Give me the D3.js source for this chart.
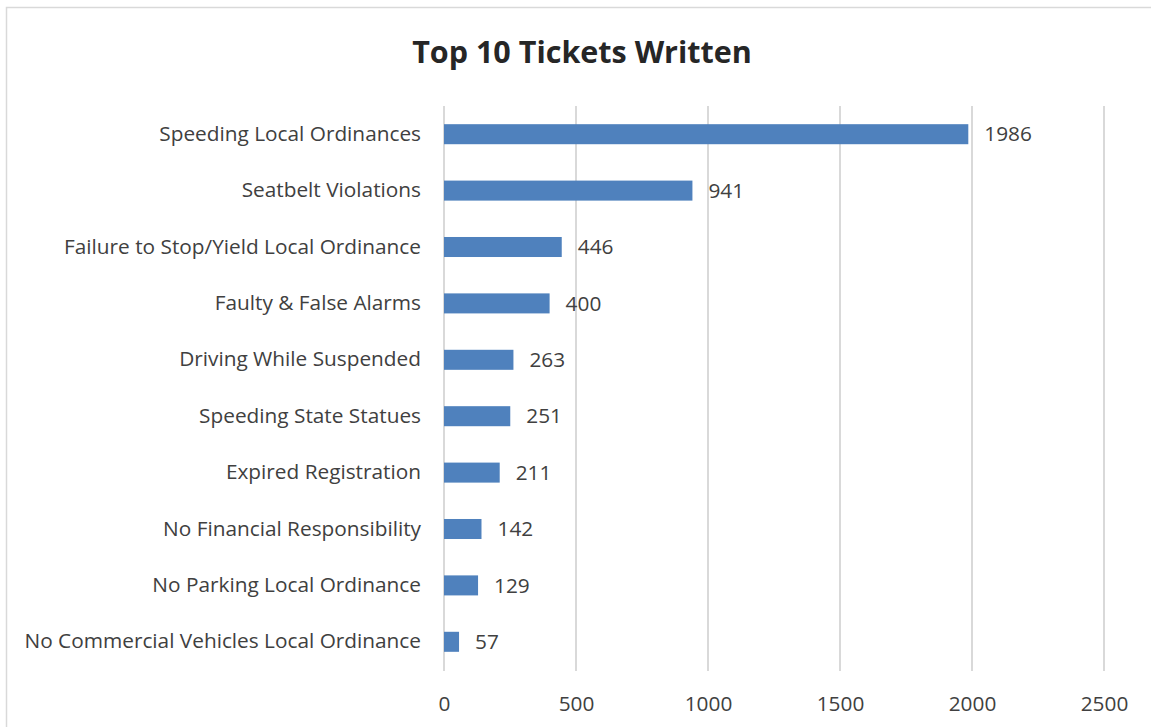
<!DOCTYPE html>
<html><head><meta charset="utf-8">
<script src="https://cdn.jsdelivr.net/npm/d3@7"></script>
<style>html,body{margin:0;padding:0;background:#fff;}svg{display:block;}</style>
</head><body>
<svg id="chart" width="1151" height="727"></svg>
<script>
const categories = ["Speeding Local Ordinances","Seatbelt Violations","Failure to Stop/Yield Local Ordinance","Faulty & False Alarms","Driving While Suspended","Speeding State Statues","Expired Registration","No Financial Responsibility","No Parking Local Ordinance","No Commercial Vehicles Local Ordinance"];
const values = [1986, 941, 446, 400, 263, 251, 211, 142, 129, 57];
const xTicks = [0, 500, 1000, 1500, 2000, 2500];
const title = "Top 10 Tickets Written";

const svg = d3.select("#chart");
const font = "'Open Sans', sans-serif";
svg.append("rect").attr("x",6.5).attr("y",7.5).attr("width",1200).attr("height",800)
  .attr("fill","#fff").attr("stroke","#d9d9d9").attr("stroke-width",1.5);

const x = d3.scaleLinear().domain([0,2500]).range([444,1104]);
const y = d3.scaleBand().domain(categories).range([106,670]).paddingInner(0.645).paddingOuter(0.3225);

svg.append("text").attr("x",582).attr("y",63).attr("text-anchor","middle")
  .attr("font-family",font).attr("font-weight","bold").attr("font-size",30.5).attr("fill","#262626").text(title);

svg.append("g").selectAll("line").data(xTicks).join("line")
  .attr("x1",d=>x(d)).attr("x2",d=>x(d)).attr("y1",106).attr("y2",671)
  .attr("stroke","#d9d9d9").attr("stroke-width",2);

const xAxis = svg.append("g").attr("transform","translate(0,671)")
  .call(d3.axisBottom(x).tickValues(xTicks).tickSize(0).tickPadding(25).tickFormat(d3.format("d")));
xAxis.select(".domain").remove();
xAxis.selectAll("text").attr("font-family",font).attr("font-size",20.8).attr("fill","#404040");

const yAxis = svg.append("g").attr("transform","translate(444,0)")
  .call(d3.axisLeft(y).tickSize(0).tickPadding(23));
yAxis.select(".domain").remove();
yAxis.selectAll("text").attr("font-family",font).attr("font-size",20.8).attr("fill","#404040");

svg.append("g").selectAll("rect").data(values).join("rect")
  .attr("x",x(0)).attr("y",(d,i)=>y(categories[i]))
  .attr("width",d=>x(d)-x(0)).attr("height",y.bandwidth())
  .attr("fill","#4f81bd");

svg.append("g").selectAll("text").data(values).join("text")
  .attr("x",d=>x(d)+16).attr("y",(d,i)=>y(categories[i])+y.bandwidth()/2)
  .attr("dy","0.35em").attr("font-family",font).attr("font-size",20.8).attr("fill","#404040")
  .text(d=>d);
</script>
</body></html>
